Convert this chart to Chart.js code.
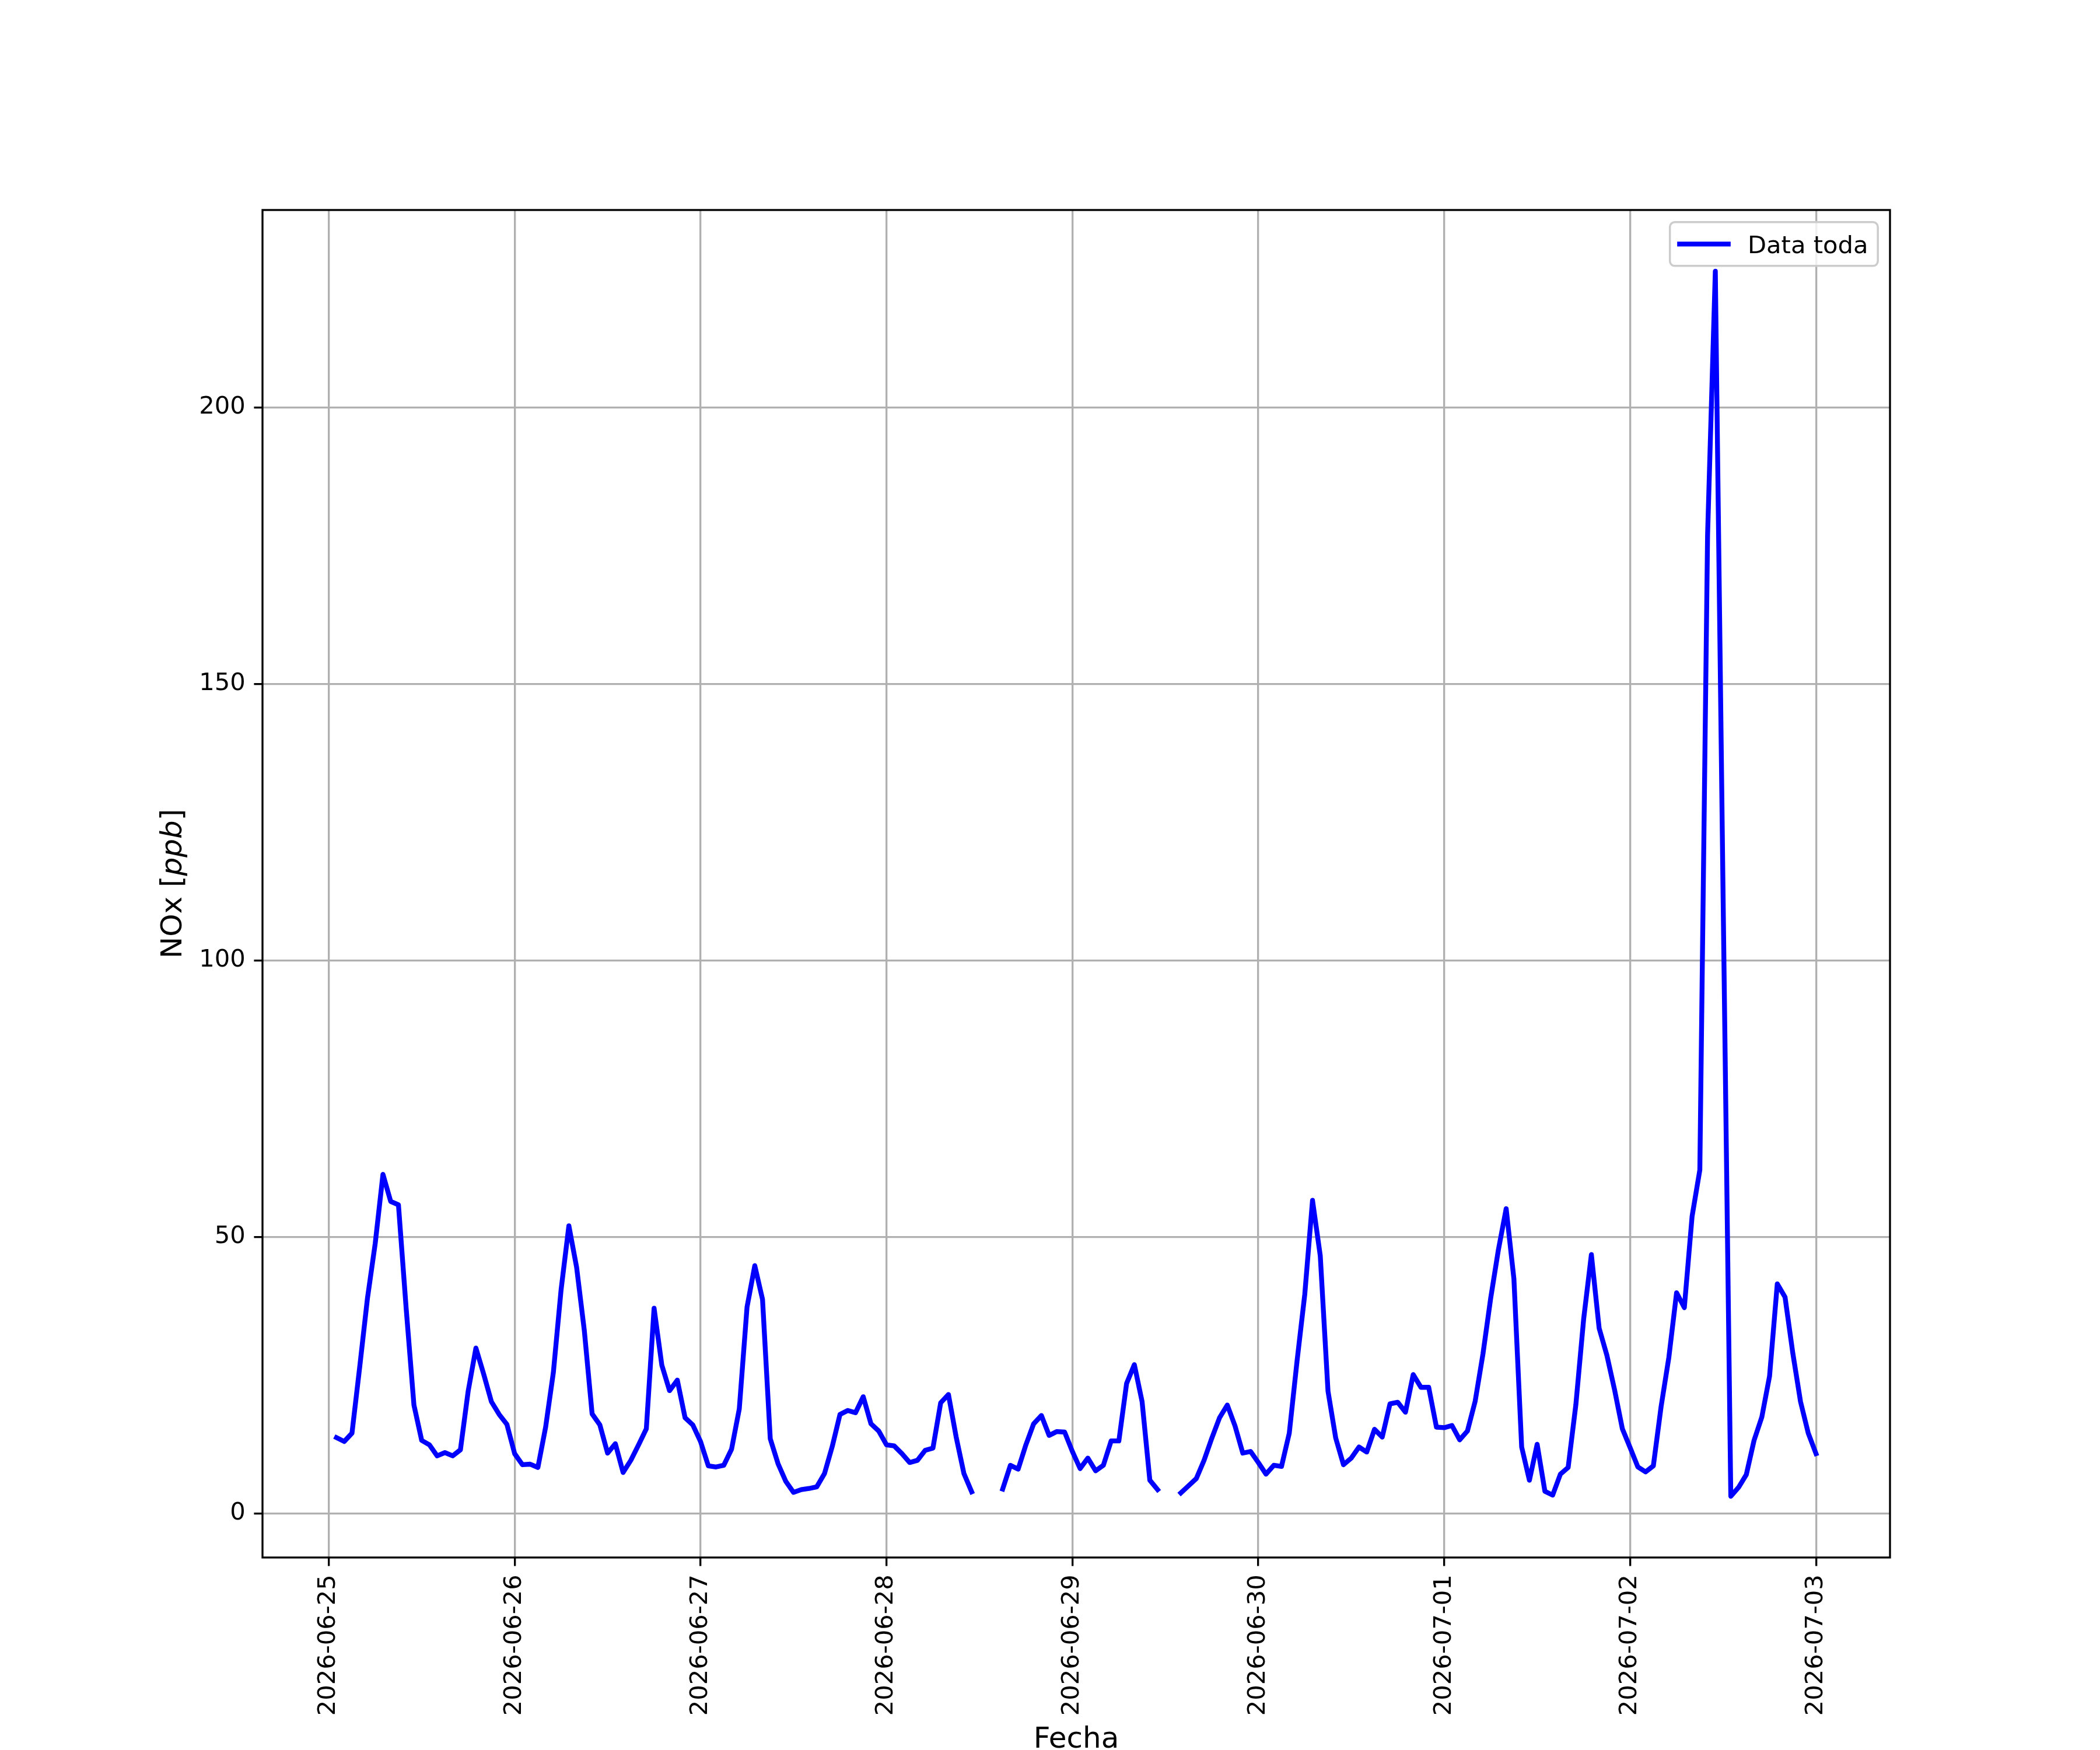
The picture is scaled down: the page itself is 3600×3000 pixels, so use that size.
<!DOCTYPE html>
<html>
<head>
<meta charset="utf-8">
<script src="https://cdn.jsdelivr.net/npm/chart.js@4.4.1/dist/chart.umd.min.js"></script>
<style>
  html, body { margin: 0; padding: 0; background: #ffffff; }
  canvas { display: block; }
</style>
</head>
<body>
<canvas id="noxChart" width="3600" height="3000"></canvas>
<script>
// Etiquetas del eje x (un tick cada 24 h, a las 00:00)
const dayLabels = ["2026-06-25", "2026-06-26", "2026-06-27", "2026-06-28", "2026-06-29",
                   "2026-06-30", "2026-07-01", "2026-07-02", "2026-07-03"];
const yTicks = [0, 50, 100, 150, 200];
const seriesLabel = "Data toda";

// NOx horario [ppb], horas 01..24 de cada día (null = sin dato)
const nox0625 = [13.7, 13.0, 14.5, 26.5, 38.9, 48.8, 61.3, 56.4, 55.8, 37.0, 19.6, 13.2,
                 12.4, 10.4, 11.0, 10.4, 11.5, 22.1, 29.9, 25.2, 20.2, 17.9, 16.1, 10.8];
const nox0626 = [8.8, 8.9, 8.3, 15.6, 25.5, 40.5, 52.0, 44.5, 33.0, 18.0, 16.0, 10.9,
                 12.6, 7.4, 9.6, 12.4, 15.3, 37.1, 26.8, 22.2, 24.1, 17.3, 16.0, 13.0];
const nox0627 = [8.6, 8.4, 8.7, 11.6, 18.9, 37.3, 44.8, 38.7, 13.5, 9.0, 5.8, 3.8,
                 4.3, 4.5, 4.8, 7.2, 12.1, 17.9, 18.6, 18.2, 21.1, 16.2, 14.9, 12.4];
const nox0628 = [12.2, 10.8, 9.2, 9.6, 11.4, 11.8, 20.0, 21.5, 13.8, 7.2, 3.9, null,
                 null, null, 4.4, 8.7, 8.0, 12.4, 16.2, 17.7, 14.1, 14.8, 14.7, 11.2];
const nox0629 = [8.1, 10.0, 7.7, 8.7, 13.1, 13.1, 23.5, 26.9, 20.2, 6.0, 4.3, null,
                 null, 3.7, 5.0, 6.3, 9.6, 13.6, 17.3, 19.6, 15.8, 10.9, 11.2, 9.2];
const nox0630 = [7.1, 8.7, 8.5, 14.5, 27.5, 39.6, 56.6, 46.6, 22.1, 13.6, 8.8, 10.0,
                 12.0, 11.1, 15.2, 13.8, 19.8, 20.1, 18.3, 25.1, 22.8, 22.8, 15.6, 15.5];
const nox0701 = [15.9, 13.3, 14.9, 20.3, 28.8, 38.9, 47.7, 55.1, 42.4, 12.0, 6.0, 12.5,
                 4.0, 3.3, 7.1, 8.3, 19.7, 35.1, 46.8, 33.5, 28.6, 22.3, 15.3, 11.9];
const nox0702 = [8.4, 7.5, 8.6, 19.3, 28.2, 39.9, 37.2, 53.7, 62.1, 176.9, 224.6, 112.0,
                 3.1, 4.7, 7.0, 13.2, 17.4, 24.8, 41.5, 39.1, 29.0, 20.2, 14.5, 10.8];

const allDays = [nox0625, nox0626, nox0627, nox0628, nox0629, nox0630, nox0701, nox0702];

// x = horas desde 2026-06-25 00:00
const points = [];
allDays.forEach((day, d) => {
  day.forEach((v, h) => points.push({ x: d * 24 + h + 1, y: v }));
});

// Márgenes automáticos del 5 % (como matplotlib)
const xs = points.map(p => p.x);
const ys = points.filter(p => p.y !== null).map(p => p.y);
const xMin = Math.min(...xs), xMax = Math.max(...xs);
const yMin = Math.min(...ys), yMax = Math.max(...ys);
const xPad = 0.05 * (xMax - xMin);
const yPad = 0.05 * (yMax - yMin);

const FONT = "DejaVu Sans";
const PT = 300 / 72; // px por punto
const tickFont = { family: FONT, size: 10 * PT };

const gridOpts = {
  color: "#b0b0b0",
  lineWidth: 0.8 * PT,
  tickColor: "#000000",
  tickLength: 3.5 * PT,
  tickWidth: 0.8 * PT,
};

// Marco, leyenda y títulos de ejes
const decorations = {
  id: "decorations",
  afterDatasetsDraw(chart) {
    const { ctx, chartArea: a } = chart;
    ctx.save();
    ctx.strokeStyle = "#000000";
    ctx.lineWidth = 0.8 * PT;
    ctx.strokeRect(a.left, a.top, a.right - a.left, a.bottom - a.top);
    ctx.restore();
  },
  afterDraw(chart) {
    const { ctx, chartArea: a } = chart;
    const fs = 10 * PT;
    ctx.save();

    // leyenda (arriba a la derecha, dentro del área)
    const ds = chart.data.datasets[0];
    ctx.font = fs + "px '" + FONT + "'";
    const textW = ctx.measureText(ds.label).width;
    const pad = 0.4 * fs, handle = 2.0 * fs, gap = 0.8 * fs, edge = 0.5 * fs;
    const boxW = pad * 2 + handle + gap + textW;
    const boxH = pad * 2 + fs;
    const bx = a.right - edge - boxW;
    const by = a.top + edge;
    ctx.beginPath();
    ctx.roundRect(bx, by, boxW, boxH, 0.2 * fs);
    ctx.fillStyle = "rgba(255,255,255,0.8)";
    ctx.fill();
    ctx.strokeStyle = "#cccccc";
    ctx.lineWidth = 1.0 * PT * 0.85;
    ctx.stroke();
    const cy = by + boxH / 2;
    ctx.beginPath();
    ctx.moveTo(bx + pad, cy);
    ctx.lineTo(bx + pad + handle, cy);
    ctx.strokeStyle = ds.borderColor;
    ctx.lineWidth = ds.borderWidth;
    ctx.lineCap = "square";
    ctx.stroke();
    ctx.fillStyle = "#000000";
    ctx.textBaseline = "alphabetic";
    ctx.textAlign = "left";
    ctx.fillText(ds.label, bx + pad + handle + gap, cy + 0.38 * fs);

    // título eje x
    const ls = 12 * PT;
    ctx.font = ls + "px '" + FONT + "'";
    ctx.textAlign = "center";
    ctx.fillText("Fecha", (a.left + a.right) / 2, 2996);

    // título eje y: "NOx [ppb]" con ppb en cursiva
    const parts = [
      { t: "NOx [", f: ls + "px '" + FONT + "'" },
      { t: "ppb", f: "oblique " + ls + "px '" + FONT + "'" },
      { t: "]", f: ls + "px '" + FONT + "'" },
    ];
    let total = 0;
    parts.forEach(p => { ctx.font = p.f; p.w = ctx.measureText(p.t).width; total += p.w; });
    ctx.translate(311, (a.top + a.bottom) / 2);
    ctx.rotate(-Math.PI / 2);
    ctx.textAlign = "left";
    let px = -total / 2;
    parts.forEach(p => { ctx.font = p.f; ctx.fillText(p.t, px, 0); px += p.w; });
    ctx.restore();
  },
};

const config = {
  type: "line",
  data: {
    datasets: [
      {
        label: seriesLabel,
        data: points,
        borderColor: "#0000ff",
        borderWidth: 2 * PT,
        pointRadius: 0,
        tension: 0,
        spanGaps: false,
        fill: false,
        borderJoinStyle: "round",
        borderCapStyle: "square",
      },
    ],
  },
  options: {
    responsive: false,
    animation: false,
    devicePixelRatio: 1,
    layout: { padding: { left: 0, top: 360, right: 360, bottom: 0 } },
    plugins: {
      legend: { display: false },
      tooltip: { enabled: false },
    },
    scales: {
      x: {
        type: "linear",
        min: xMin - xPad,
        max: xMax + xPad,
        afterBuildTicks: s => { s.ticks = dayLabels.map((_, i) => ({ value: i * 24 })); },
        afterFit: s => { s.height = 330; },
        ticks: {
          autoSkip: false,
          minRotation: 90,
          maxRotation: 90,
          padding: 3.5 * PT,
          color: "#000000",
          font: tickFont,
          callback: v => dayLabels[Math.round(v / 24)],
        },
        grid: gridOpts,
        border: { display: false },
      },
      y: {
        type: "linear",
        min: yMin - yPad,
        max: yMax + yPad,
        afterBuildTicks: s => { s.ticks = yTicks.map(v => ({ value: v })); },
        afterFit: s => { s.width = 450; },
        ticks: {
          padding: 3.5 * PT,
          color: "#000000",
          font: tickFont,
          callback: v => String(v),
        },
        grid: gridOpts,
        border: { display: false },
      },
    },
  },
  plugins: [decorations],
};

const noxChart = new Chart(document.getElementById("noxChart"), config);
</script>
</body>
</html>
